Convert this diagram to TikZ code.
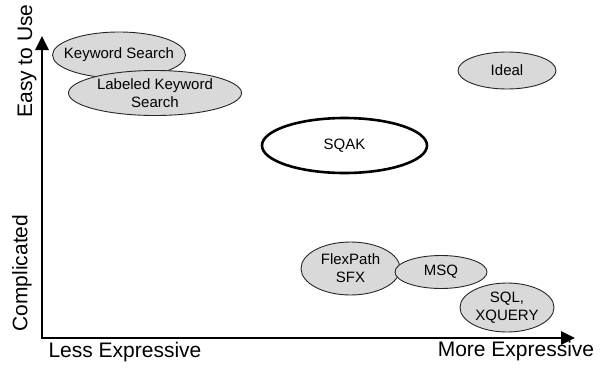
\documentclass[tikz,border=0pt]{standalone}
\usepackage{fontspec}
\setmainfont{Liberation Sans}
\usetikzlibrary{shapes.geometric,arrows.meta}
\definecolor{bubblefill}{HTML}{D9D9D9}
\tikzset{
  bubbletext/.style={inner sep=0pt, align=center, font=\fontsize{15}{18}\selectfont},
  bubble/.style={ellipse, draw=black!85, line width=0.9pt, fill=bubblefill,
    inner sep=0pt, label={[bubbletext]center:#1}},
  hollow/.style={ellipse, draw=black, line width=2.6pt, fill=white,
    inner sep=0pt, label={[bubbletext]center:#1}},
  axisline/.style={line width=2.8pt, line join=miter,
    {Triangle[length=14pt,width=13pt]}-{Triangle[length=14pt,width=13pt]}},
  axislabel/.style={font=\fontsize{21}{24}\selectfont, inner sep=0pt}
}
\begin{document}
\begin{tikzpicture}[x=1pt,y=-1pt]
\useasboundingbox (0,0) rectangle (608,367);

% axes
\coordinate (ytop) at (42,36);
\coordinate (xend) at (575,338);
\draw[axisline] (ytop) |- (xend);

% axis labels
\node[axislabel, rotate=90] (easy) at (27,61) {Easy to Use};
\node[axislabel, rotate=90] (compl) at (22,273) {Complicated};
\node[axislabel] (less) at (125,352) {Less Expressive};
\node[axislabel] (more) at (516,351) {More Expressive};

% languages
\node[bubble={Keyword Search}, minimum width=133, minimum height=46] (kw) at (119,55) {};
\node[bubble={Labeled Keyword\\Search}, minimum width=173, minimum height=45] (lkw) at (155,93) {};
\node[bubble={Ideal}, minimum width=98, minimum height=37] (ideal) at (507,70.5) {};
\node[hollow={SQAK}, minimum width=165, minimum height=55] (sqak) at (344.5,145.5) {};
\node[bubble={FlexPath\\SFX}, minimum width=99, minimum height=53] (flex) at (350.5,268.5) {};
\node[bubble={MSQ}, minimum width=92, minimum height=33] (msq) at (441,272) {};
\node[bubble={SQL,\\XQUERY}, minimum width=94, minimum height=49] (sql) at (507,307.5) {};
\end{tikzpicture}
\end{document}
